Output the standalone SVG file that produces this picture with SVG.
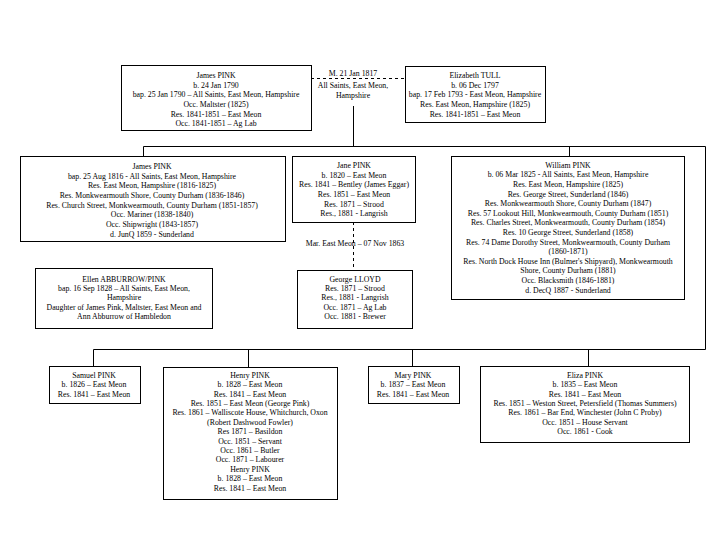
<svg xmlns="http://www.w3.org/2000/svg" width="720" height="540" viewBox="0 0 720 540">
<style>
.b{fill:#fff;stroke:#000;stroke-width:1}
.t{font-family:"Liberation Serif","Times New Roman",serif;font-size:7.8px;fill:#000;text-anchor:middle}
.c{fill:none;stroke:#000;stroke-width:1}
.d{fill:none;stroke:#000;stroke-width:1;stroke-dasharray:3,3}
</style>
<rect width="720" height="540" fill="#fff"/>
<g id="connectors">
<path class="d" d="M311,78.5H405"/>
<path class="c" d="M353.5,106V146.5M143.5,146.5H705.5V349.5H93.5M143.5,146.5V156M569.5,146.5V156M93.5,349.5V366M248.5,349.5V367M412.5,349.5V366M588.5,349.5V366"/>
<path class="d" d="M353.5,222V270"/>
</g>
<g id="james-sr">
<rect class="b" x="121.5" y="65.5" width="190" height="65"/>
<text class="t" x="216"><tspan x="216" y="77.8">James PINK</tspan><tspan x="216" y="87.5">b. 24 Jan 1790</tspan><tspan x="216" y="97.2">bap. 25 Jan 1790 – All Saints, East Meon, Hampshire</tspan><tspan x="216" y="106.9">Occ. Maltster (1825)</tspan><tspan x="216" y="116.6">Res. 1841-1851 – East Meon</tspan><tspan x="216" y="126.3">Occ. 1841-1851 – Ag Lab</tspan></text>
</g>
<g id="marriage">
<text class="t" x="353"><tspan x="353" y="76">M. 21 Jan 1817</tspan><tspan x="353" y="88.3">All Saints, East Meon,</tspan><tspan x="353" y="97.8">Hampshire</tspan></text>
</g>
<g id="elizabeth">
<rect class="b" x="405.5" y="66.5" width="140" height="56"/>
<text class="t" x="475"><tspan x="475" y="77.8">Elizabeth TULL</tspan><tspan x="475" y="87.6">b. 06 Dec 1797</tspan><tspan x="475" y="97.4">bap. 17 Feb 1793 - East Meon, Hampshire</tspan><tspan x="475" y="107.2">Res. East Meon, Hampshire (1825)</tspan><tspan x="475" y="117">Res. 1841-1851 – East Meon</tspan></text>
</g>
<g id="james-jr">
<rect class="b" x="20.5" y="156.5" width="265" height="85"/>
<text class="t" x="152"><tspan x="152" y="168.8">James PINK</tspan><tspan x="152" y="178.5">bap. 25 Aug 1816 - All Saints, East Meon, Hampshire</tspan><tspan x="152" y="188.2">Res. East Meon, Hampshire (1816-1825)</tspan><tspan x="152" y="197.9">Res. Monkwearmouth Shore, County Durham (1836-1846)</tspan><tspan x="152" y="207.6">Res. Church Street, Monkwearmouth, County Durham (1851-1857)</tspan><tspan x="152" y="217.3">Occ. Mariner (1838-1840)</tspan><tspan x="152" y="227">Occ. Shipwright (1843-1857)</tspan><tspan x="152" y="236.7">d. JunQ 1859 - Sunderland</tspan></text>
</g>
<g id="jane">
<rect class="b" x="292.5" y="156.5" width="123" height="66"/>
<text class="t" x="354"><tspan x="354" y="167.8">Jane PINK</tspan><tspan x="354" y="177.5">b. 1820 – East Meon</tspan><tspan x="354" y="187.2">Res. 1841 – Bentley (James Eggar)</tspan><tspan x="354" y="196.9">Res. 1851 – East Meon</tspan><tspan x="354" y="206.6">Res. 1871 – Strood</tspan><tspan x="354" y="216.3">Res., 1881 - Langrish</tspan></text>
</g>
<g id="jane-marriage">
<text class="t" x="355" y="245.8">Mar. East Meon – 07 Nov 1863</text>
</g>
<g id="william">
<rect class="b" x="451.5" y="156.5" width="233" height="143"/>
<text class="t" x="568"><tspan x="568" y="167.8">William PINK</tspan><tspan x="568" y="177.4">b. 06 Mar 1825 - All Saints, East Meon, Hampshire</tspan><tspan x="568" y="187">Res. East Meon, Hampshire (1825)</tspan><tspan x="568" y="196.6">Res. George Street, Sunderland (1846)</tspan><tspan x="568" y="206.2">Res. Monkwearmouth Shore, County Durham (1847)</tspan><tspan x="568" y="215.8">Res. 57 Lookout Hill, Monkwearmouth, County Durham (1851)</tspan><tspan x="568" y="225.4">Res. Charles Street, Monkwearmouth, County Durham (1854)</tspan><tspan x="568" y="235">Res. 10 George Street, Sunderland (1858)</tspan><tspan x="568" y="244.6">Res. 74 Dame Dorothy Street, Monkwearmouth, County Durham</tspan><tspan x="568" y="254.2">(1860-1871)</tspan><tspan x="568" y="263.8">Res. North Dock House Inn (Bulmer's Shipyard), Monkwearmouth</tspan><tspan x="568" y="273.4">Shore, County Durham (1881)</tspan><tspan x="568" y="283">Occ. Blacksmith (1846-1881)</tspan><tspan x="568" y="292.6">d. DecQ 1887 - Sunderland</tspan></text>
</g>
<g id="ellen">
<rect class="b" x="35.5" y="268.5" width="177" height="60"/>
<text class="t" x="124"><tspan x="124" y="281.8">Ellen ABBURROW/PINK</tspan><tspan x="124" y="291.1">bap. 16 Sep 1828 – All Saints, East Meon,</tspan><tspan x="124" y="300.4">Hampshire</tspan><tspan x="124" y="309.7">Daughter of James Pink, Maltster, East Meon and</tspan><tspan x="124" y="319">Ann Abburrow of Hambledon</tspan></text>
</g>
<g id="george">
<rect class="b" x="297.5" y="270.5" width="115" height="58"/>
<text class="t" x="355"><tspan x="355" y="281.8">George LLOYD</tspan><tspan x="355" y="291.1">Res. 1871 – Strood</tspan><tspan x="355" y="300.4">Res., 1881 - Langrish</tspan><tspan x="355" y="309.7">Occ. 1871 – Ag Lab</tspan><tspan x="355" y="319">Occ. 1881 - Brewer</tspan></text>
</g>
<g id="samuel">
<rect class="b" x="49.5" y="366.5" width="91" height="37"/>
<text class="t" x="94"><tspan x="94" y="377.8">Samuel PINK</tspan><tspan x="94" y="387.3">b. 1826 – East Meon</tspan><tspan x="94" y="396.8">Res. 1841 – East Meon</tspan></text>
</g>
<g id="henry">
<rect class="b" x="163.5" y="367.5" width="174" height="132"/>
<text class="t" x="250"><tspan x="250" y="377.8">Henry PINK</tspan><tspan x="250" y="387.2">b. 1828 – East Meon</tspan><tspan x="250" y="396.6">Res. 1841 – East Meon</tspan><tspan x="250" y="406">Res. 1851 – East Meon (George Pink)</tspan><tspan x="250" y="415.4">Res. 1861 – Walliscote House, Whitchurch, Oxon</tspan><tspan x="250" y="424.8">(Robert Dashwood Fowler)</tspan><tspan x="250" y="434.2">Res 1871 – Basildon</tspan><tspan x="250" y="443.6">Occ. 1851 – Servant</tspan><tspan x="250" y="453">Occ. 1861 – Butler</tspan><tspan x="250" y="462.4">Occ. 1871 – Labourer</tspan><tspan x="250" y="471.8">Henry PINK</tspan><tspan x="250" y="481.2">b. 1828 – East Meon</tspan><tspan x="250" y="490.6">Res. 1841 – East Meon</tspan></text>
</g>
<g id="mary">
<rect class="b" x="368.5" y="366.5" width="91" height="37"/>
<text class="t" x="413"><tspan x="413" y="377.8">Mary PINK</tspan><tspan x="413" y="387.3">b. 1837 – East Meon</tspan><tspan x="413" y="396.8">Res. 1841 – East Meon</tspan></text>
</g>
<g id="eliza">
<rect class="b" x="480.5" y="366.5" width="209" height="76"/>
<text class="t" x="585"><tspan x="585" y="377.8">Eliza PINK</tspan><tspan x="585" y="387.2">b. 1835 – East Meon</tspan><tspan x="585" y="396.6">Res. 1841 – East Meon</tspan><tspan x="585" y="406">Res. 1851 – Weston Street, Petersfield (Thomas Summers)</tspan><tspan x="585" y="415.4">Res. 1861 – Bar End, Winchester (John C Proby)</tspan><tspan x="585" y="424.8">Occ. 1851 – House Servant</tspan><tspan x="585" y="434.2">Occ. 1861 - Cook</tspan></text>
</g>
</svg>
